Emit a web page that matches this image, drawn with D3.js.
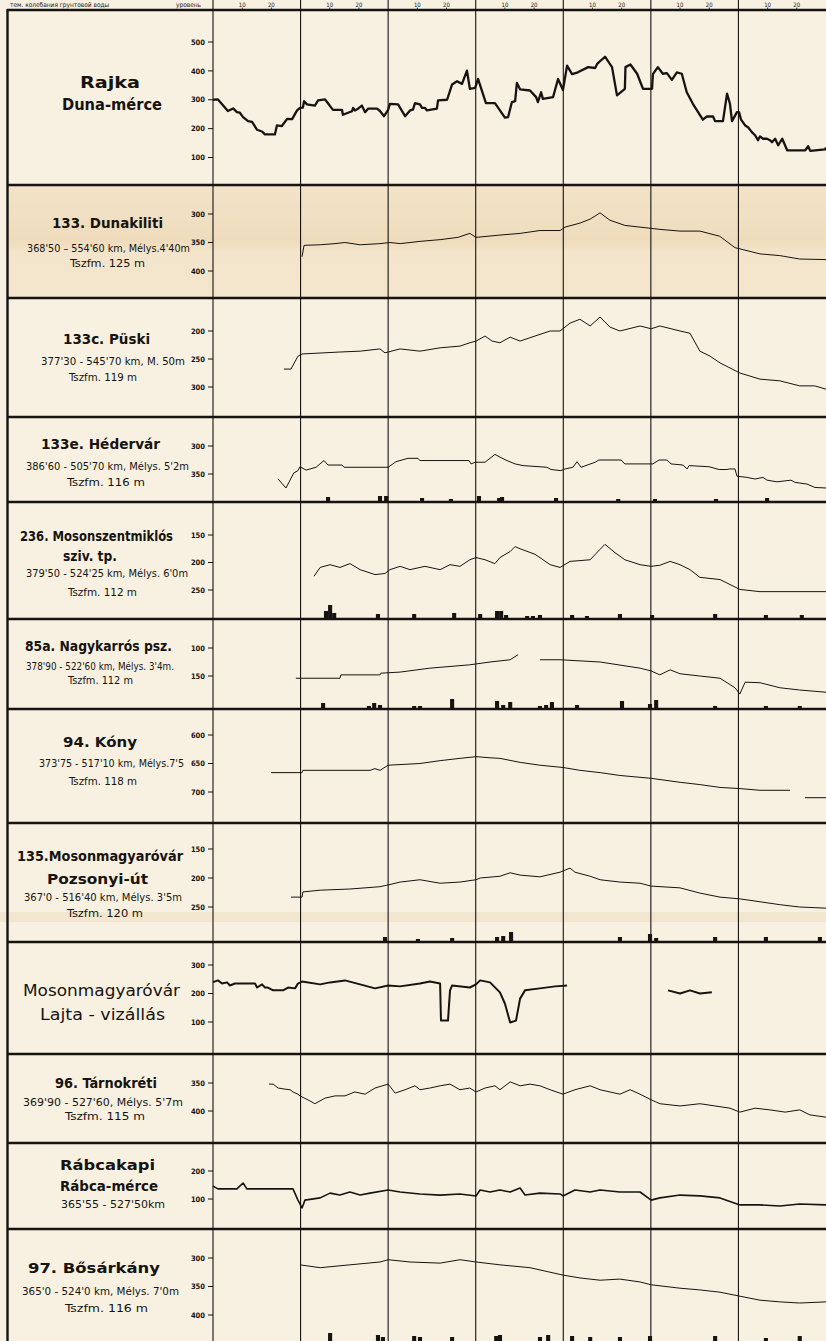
<!DOCTYPE html>
<html><head><meta charset="utf-8">
<script src="https://cdn.jsdelivr.net/npm/d3@7"></script>
<style>body{margin:0;background:#f8f1e2}svg{display:block}</style>
</head><body><svg id="c" width="826" height="1341"></svg>
<script>
// ---------- DATA (x = day from first grid line, 30 days per column) ----------
const monthStarts = [0, 30, 60, 90, 120, 150, 180];
const dekadTicks = [10, 20];
const headerLabels = ["10", "20"];

const rajkaTicks = [500, 400, 300, 200, 100];
const rajkaLevel = [[0,300],[1.7,301],[5.1,261],[6.9,270],[8.2,257],[9.2,255],[10.3,240],[12,226],[13.4,223],[15.1,196],[16.8,190],[17.8,180],[21.2,180],[21.9,211],[23.6,209],[25.4,234],[27.1,233],[28.8,263],[29.8,272],[30.8,273],[31.2,295],[32.2,284],[34.9,280],[36,298],[38.4,301],[41.1,265],[44.2,265],[44.5,248],[47.6,260],[48,272],[48.6,263],[49.7,269],[51,280],[52.1,257],[53.1,269],[56.2,269],[57.2,261],[58.6,243],[60,265],[60.6,286],[63.4,284],[65.8,243],[67.5,263],[68.5,266],[69.2,288],[70.9,284],[71.6,272],[72.6,272],[73.3,263],[76.7,269],[77.1,298],[80.2,300],[81.9,353],[83.6,364],[85.3,355],[87,401],[88,338],[89.8,341],[90.8,372],[93.5,288],[96.6,288],[100,238],[101.1,240],[102.4,292],[103.5,295],[104.1,358],[105.2,336],[108.6,332],[110.7,309],[111.3,292],[112.4,326],[113,303],[116.5,309],[118.2,372],[119.9,334],[121.3,418],[123,389],[125,395],[128.5,413],[130.9,410],[131.6,424],[134.3,449],[136.7,413],[138.4,315],[141.1,338],[141.3,413],[143,422],[145.3,390],[147.3,338],[150.4,338],[150.7,389],[152.4,413],[154.1,390],[155.5,392],[157.2,369],[158.9,395],[160.6,390],[162.3,326],[164.4,286],[167.8,231],[169.2,242],[171.3,242],[172,226],[174.7,226],[176.1,321],[177.1,286],[177.8,226],[179.5,257],[180.2,257],[180.9,231],[182.3,211],[183.3,205],[184.6,188],[185.7,177],[186.7,160],[187.4,173],[188.4,165],[189.8,165],[190.8,160],[191.5,153],[192.6,165],[193.6,142],[195,165],[196.7,125],[202.9,125],[203.9,139],[204.6,123],[209.7,128],[210,135]];

const dunakilitiTicks = [300, 350, 400];
const dunakilitiDepth = [[30.5,375],[31.2,355],[36.7,354],[41.8,352],[45.2,350],[50.4,354],[57.2,352],[60.6,350],[64.1,352],[70.9,348],[77.8,345],[83.9,341],[88,334],[90.1,341],[98.3,337],[105.2,334],[112,329],[118.9,329],[120.6,323],[125.7,316],[129.2,309],[132.6,298],[136,311],[141.1,320],[146.3,323],[153.1,327],[160,330],[166.8,330],[173.6,339],[178.8,359],[187.4,370],[194.2,373],[201,379],[210,380]];

const puskiTicks = [200, 250, 300];
const puskiDepth = [[24.3,268],[26.7,268],[29.1,245],[30.5,241],[43.5,237.5],[50.4,236],[57.2,232],[58.9,239],[64.1,232],[70.9,236],[77.8,230],[84.6,227],[88,221],[90.1,218],[93.2,209],[95.6,218],[98.3,221],[101.8,211],[105.2,218],[110.3,209],[115.5,200],[118.9,200],[122.3,186],[125.7,179],[129.2,191],[132.6,175],[136,193],[139.4,200],[146.3,191],[150.1,196],[153.1,191],[160,200],[163.4,204],[166.8,236],[170.3,245],[173.7,257],[180.5,275],[187.4,286],[194.2,289],[201,298],[206.2,298],[210,304]];

const hedervarTicks = [300, 350];
const hedervarDepth = [[22.3,359],[25,375],[27.7,348],[29.1,344],[29.8,337],[31.9,343],[35.3,338],[38,326],[39.4,334],[44.2,334],[44.9,338],[60,338],[62.7,328],[66.8,322],[70.2,322],[70.9,326],[87.7,326],[88.4,332],[89.8,329],[93.2,329],[93.9,326],[96.6,315],[98.7,321],[100.7,326],[103.5,332],[106.2,335],[114.4,338],[115.8,342],[119.2,344],[120.6,341],[123.3,338],[124.7,328],[126.1,338],[130.9,329],[132.2,325],[139.8,325],[141.1,332],[150.7,332],[152.8,325],[155.5,325],[156.9,332],[161,334],[162.4,341],[163.1,335],[169.9,337],[173.4,342],[176.1,342],[176.8,341],[178.8,341],[179.5,354],[182.9,356],[185.7,359],[188.4,356],[189.8,361],[193.2,364],[198,361],[199.4,365],[203.5,368],[206.2,374],[210,375]];
const hedervarRain = [[39.4,5],[57.2,6],[59.3,6],[71.6,4],[81.5,3],[91.1,6],[98,4],[99,5],[117.5,4],[138.8,3],[151.4,3],[172.3,3],[189.8,4]];

const mszmTicks = [150, 200, 250];
const mszmDepth = [[34.6,225],[36.7,209],[40.1,204],[43.5,209],[46.9,202],[50.4,213],[55.5,222],[58.9,220],[60.6,213],[64.1,207],[67.5,213],[72.6,207],[77.8,213],[81.2,204],[84.6,207],[88,195],[90.1,191],[93.2,195],[96.6,202],[98.3,191],[101.8,180],[103.5,171],[105.2,175],[110.3,185],[115.5,204],[118.9,209],[122.3,198],[129.2,195],[132.6,176],[134.3,167],[137.7,182],[141.1,195],[146.3,204],[150.1,207],[153.1,205],[156.6,198],[160,204],[163.4,213],[166.8,227],[173.7,231],[180.5,249],[187.4,253],[210,253]];
const mszmRain = [[38.7,8],[40.1,14],[41.5,6],[56.5,5],[68.9,5],[82.6,6],[91.5,5],[97.3,8],[98.7,8],[100.4,4],[107.6,3],[109.6,3],[112,4],[123,4],[128.1,3],[139.4,5],[150.4,4],[172,5],[189.4,4],[201.7,4]];

const nagykarrosTicks = [100, 150];
const nagykarrosDepth = [[28.4,154],[43.5,154],[43.8,148],[57.2,148],[57.5,145],[64.1,143],[74.3,136],[88,130],[94.9,125],[101.8,121],[104.5,112],null,[112,121],[118.9,121],[132.6,125],[146.3,136],[150.1,141],[153.1,148],[156.6,139],[160,146],[166.8,150],[173.7,154],[178.8,171],[180.5,182],[182.3,161],[187.4,162],[194.2,171],[201,175],[210,179]];
const nagykarrosRain = [[37.7,6],[53.4,3],[55.2,6],[57.2,4],[68.9,3],[70.9,3],[81.9,10],[97.3,8],[99.4,4],[101.8,7],[112,3],[114.1,4],[116.1,7],[124.7,4],[140.1,8],[149.7,5],[151.8,9],[172,3],[189.4,3],[201,3]];

const konyTicks = [600, 650, 700];
const konyDepth = [[19.9,666],[30.5,666],[30.8,662],[53.8,662],[55.5,659],[57.2,662],[60,653],[70.9,650],[77.8,645],[84.6,641],[90.1,638],[94.9,640],[98.3,641],[105.2,648],[112,653],[119.9,657],[125.7,662],[132.6,666],[139.4,671],[150.1,676],[160,683],[166.8,687],[173.7,692],[180.5,694],[187.4,697],[197.7,697],null,[202.8,710],[210,710]];

const pozsonyiTicks = [150, 200, 250];
const pozsonyiDepth = [[26.7,233],[30.5,233],[30.8,224],[36.7,221],[46.9,219],[57.2,215],[60,212],[64.1,207],[70.9,203],[77.8,209],[84.6,207],[90.1,203],[91.5,200],[98.3,197],[101.8,191],[105.2,195],[112,198],[118.9,190],[122.3,183],[124,190],[129.2,197],[132.6,203],[139.4,207],[146.3,209],[150.1,214],[160,217],[166.8,226],[173.7,233],[180.5,236],[187.4,241],[194.2,246],[201,250],[210,252]];
const pozsonyiRain = [[58.9,5],[70.2,3],[81.9,4],[97.3,5],[99.4,6],[102.1,10],[139.4,5],[149.7,8],[151.8,4],[172,5],[189.4,5],[207.9,5]];

const lajtaTicks = [300, 200, 100];
const lajtaLevel = [[0,240],[1.7,246],[3.1,235],[4.8,239],[5.8,228],[7.5,235],[14.4,235],[15.1,221],[16.8,232],[17.8,221],[18.8,221],[20.6,211],[24,211],[25.7,221],[28.1,218],[29.1,235],[30.5,242],[36.7,232],[40.1,239],[45.2,246],[50.4,232],[55.5,218],[60,228],[64.1,225],[70.9,235],[74.3,242],[77.8,235],[78.1,105],[80.5,105],[81.2,211],[81.9,228],[88,221],[90.1,232],[91.5,246],[94.9,239],[98.3,204],[100,165],[101.8,98],[103.8,105],[105.2,182],[106.9,211],[112,218],[117.2,225],[121.3,228],null,[155.9,211],[160,200],[163.4,211],[166.8,200],[170.9,204]];

const tarnokretiTicks = [350, 400];
const tarnokretiDepth = [[19.2,352],[20.6,352],[22.3,359],[24.7,361],[26.4,362],[27.4,366],[29.1,370],[29.8,373],[33.2,382],[34.9,387],[38.4,377],[41.8,373],[45.2,373],[48.6,366],[52.1,370],[55.5,359],[60,352],[62.4,368],[65.8,362],[69.2,355],[70.9,362],[74.3,359],[77.8,355],[81.2,352],[84.6,362],[88,359],[90.1,366],[93.2,359],[96.6,355],[98.3,362],[101.8,348],[105.2,355],[108.6,352],[112,355],[115.5,362],[119.9,370],[124,362],[129.2,355],[132.6,362],[136,366],[139.4,370],[142.9,362],[146.3,370],[150.1,380],[153.1,387],[160,391],[166.8,387],[172,391],[177.1,395],[180.5,402],[185.7,395],[190.8,398],[196,402],[201,398],[204.5,407],[210,411]];

const rabcaTicks = [200, 100];
const rabcaLevel = [[0,146],[1.7,136],[8.2,136],[10.3,157],[11.6,136],[27.4,136],[29.1,96],[30.5,68],[31.5,96],[36.7,104],[40.1,121],[43.5,114],[46.9,125],[50.4,114],[53.8,121],[60,132],[64.1,125],[70.9,118],[77.8,114],[84.6,118],[90.1,111],[91.5,132],[94.9,125],[98.3,132],[101.8,125],[105.2,139],[106.9,114],[112,121],[118.9,118],[119.9,111],[124,132],[129.2,125],[132.6,132],[139.4,125],[146.3,125],[150.1,96],[153.1,104],[160,114],[166.8,111],[173.7,104],[180.5,79],[187.4,79],[194.2,75],[201,82],[210,79]];

const bosarkanyTicks = [300, 350, 400];
const bosarkanyDepth = [[29.8,312],[36.7,317],[46.9,312],[57.2,307],[60,303],[67.5,307],[77.8,309],[84.6,303],[90.1,307],[98.3,312],[108.6,317],[119.9,330],[125.7,335],[132.6,339],[139.4,337],[146.3,342],[150.1,347],[160,353],[166.8,356],[173.7,360],[180.5,367],[187.4,374],[194.2,377],[201,379],[210,377]];
const bosarkanyRain = [[40.1,8],[56.5,6],[58.2,4],[68.9,5],[70.9,4],[81.9,4],[97,5],[98.3,6],[112,4],[114.8,6],[123,5],[129.2,4],[139.4,4],[149.7,5],[172,5],[189.4,3],[201,5]];

// ---------- LAYOUT ----------
const svg = d3.select('#c');
const W = 826, H = 1341;
const ink = '#161310';
const FONT = 'DejaVu Sans Condensed, DejaVu Sans, sans-serif';
const x = d3.scaleLinear().domain([0, 210]).range([213, 826]);

const panels = [
 {top:10, bottom:185, ticks:rajkaTicks, yr:[42,157.5], data:rajkaLevel, lw:2.3,
  labels:[["Rajka",80,88,16,60,700],["Duna-mérce",62,110,16,100,700]]},
 {top:185, bottom:298, ticks:dunakilitiTicks, yr:[214,271], data:dunakilitiDepth, lw:1, tint:true,
  labels:[["133. Dunakiliti",52,228,14,111,700],["368'50 – 554'60 km, Mélys.4'40m",27,251.5,10,163,400],["Tszfm. 125 m",70,266.5,10,75,400]]},
 {top:298, bottom:417, ticks:puskiTicks, yr:[331,387], data:puskiDepth, lw:1,
  labels:[["133c. Püski",63,344,14,87,700],["377'30 - 545'70 km, M. 50m",41,364.5,10,144,400],["Tszfm. 119 m",69,380.5,10,68,400]]},
 {top:417, bottom:502, ticks:hedervarTicks, yr:[446,474], data:hedervarDepth, lw:1, rain:hedervarRain,
  labels:[["133e. Hédervár",41,449,14,119,700],["386'60 - 505'70 km, Mélys. 5'2m",26,469.5,10,163,400],["Tszfm. 116 m",67,485.5,10,78,400]]},
 {top:502, bottom:619, ticks:mszmTicks, yr:[535,590], data:mszmDepth, lw:1, rain:mszmRain,
  labels:[["236. Mosonszentmiklós",20,541,14,153,700],["sziv. tp.",63,561,14,54,700],["379'50 - 524'25 km, Mélys. 6'0m",26,576.5,10,162,400],["Tszfm. 112 m",68,595.5,10,69,400]]},
 {top:619, bottom:709, ticks:nagykarrosTicks, yr:[648,676], data:nagykarrosDepth, lw:1, rain:nagykarrosRain,
  labels:[["85a. Nagykarrós psz.",25,651,14,147,700],["378'90 - 522'60 km, Mélys. 3'4m.",26,669.5,10,148,400],["Tszfm. 112 m",68,683.5,10,65,400]]},
 {top:709, bottom:823, ticks:konyTicks, yr:[735,792], data:konyDepth, lw:1,
  labels:[["94. Kóny",63,747,14,74,700],["373'75 - 517'10 km, Mélys.7'5",39,766.5,10,145,400],["Tszfm. 118 m",69,784.5,10,68,400]]},
 {top:823, bottom:942, ticks:pozsonyiTicks, yr:[849,907], data:pozsonyiDepth, lw:1, rain:pozsonyiRain,
  labels:[["135.Mosonmagyaróvár",17,861,14,166,700],["Pozsonyi-út",47,884,14,101,700],["367'0 - 516'40 km, Mélys. 3'5m",24,900.5,10,158,400],["Tszfm. 120 m",67,916.5,10,76,400]]},
 {top:942, bottom:1054, ticks:lajtaTicks, yr:[965,1022], data:lajtaLevel, lw:2,
  labels:[["Mosonmagyaróvár",23,995.5,15,157,400],["Lajta - vizállás",40,1019.5,15,125,400]]},
 {top:1054, bottom:1143, ticks:tarnokretiTicks, yr:[1083,1111], data:tarnokretiDepth, lw:1,
  labels:[["96. Tárnokréti",55,1088,14,102,700],["369'90 - 527'60, Mélys. 5'7m",23,1105.5,10,160,400],["Tszfm. 115 m",65,1119.5,10,80,400]]},
 {top:1143, bottom:1229, ticks:rabcaTicks, yr:[1171,1199], data:rabcaLevel, lw:1.6,
  labels:[["Rábcakapi",60,1170,14,95,700],["Rábca-mérce",60,1191,14,98,700],["365'55 - 527'50km",61,1207.5,10,104,400]]},
 {top:1229, bottom:1341, ticks:bosarkanyTicks, yr:[1258,1315], data:bosarkanyDepth, lw:1, rain:bosarkanyRain,
  labels:[["97. Bősárkány",28,1273,14,132,700],["365'0 - 524'0 km, Mélys. 7'0m",22,1294.5,10,157,400],["Tszfm. 116 m",65,1311.5,10,83,400]]}
];

// background
svg.append('rect').attr('width',W).attr('height',H).attr('fill','#f8f1e2');
const defs = svg.append('defs');
const g1 = defs.append('linearGradient').attr('id','tint').attr('x1',0).attr('y1',0).attr('x2',0).attr('y2',1);
g1.append('stop').attr('offset','0').attr('stop-color','#f2e3c8');
g1.append('stop').attr('offset','0.5').attr('stop-color','#efdcbd');
g1.append('stop').attr('offset','0.6').attr('stop-color','#f3e5cb');
g1.append('stop').attr('offset','1').attr('stop-color','#f4e6cd');
panels.filter(p=>p.tint).forEach(p=>{
  svg.append('rect').attr('x',7).attr('y',p.top).attr('width',W-7).attr('height',p.bottom-p.top).attr('fill','url(#tint)');
});
// fold shading
svg.append('rect').attr('x',0).attr('y',912).attr('width',W).attr('height',10).attr('fill','#eedfc4').attr('opacity',0.6);

// header
const hdr = svg.append('g').attr('font-family',FONT).attr('fill',ink);
hdr.append('text').attr('x',10).attr('y',7).attr('font-size',6.5).text('тем. колебания грунтовой воды');
hdr.append('text').attr('x',176).attr('y',7).attr('font-size',6.5).text('уровень');
monthStarts.forEach(m=>{
  dekadTicks.forEach((d,i)=>{
    const xx = x(m+d);
    hdr.append('line').attr('x1',xx).attr('x2',xx).attr('y1',7.5).attr('y2',10).attr('stroke',ink).attr('stroke-width',0.8);
    hdr.append('text').attr('x',xx).attr('y',6.5).attr('font-size',6).attr('text-anchor','middle').text(headerLabels[i]);
  });
});

// vertical grid lines
svg.append('g').selectAll('line').data(monthStarts).join('line')
  .attr('x1',d=>x(d)).attr('x2',d=>x(d)).attr('y1',0).attr('y2',H)
  .attr('stroke',ink).attr('stroke-width',1.1);

// panels
panels.forEach(p=>{
  const y = d3.scaleLinear().domain([p.ticks[0], p.ticks[p.ticks.length-1]]).range(p.yr);
  const g = svg.append('g');
  p.ticks.forEach(t=>{
    g.append('line').attr('x1',208).attr('x2',213).attr('y1',y(t)).attr('y2',y(t)).attr('stroke',ink).attr('stroke-width',1);
    g.append('text').attr('x',205).attr('y',y(t)).attr('dy','0.35em').attr('text-anchor','end')
      .attr('font-family',FONT).attr('font-weight',700)
      .attr('font-size',7.5).attr('fill',ink).text(t);
  });
  if (p.rain) {
    const h = d3.scaleLinear().domain([0,10]).range([0,10]);
    g.selectAll('rect.r').data(p.rain).join('rect')
      .attr('x',d=>x(d[0])-2).attr('width',d=>x(d[0]+1.4)-x(d[0]))
      .attr('y',d=>p.bottom-h(d[1])).attr('height',d=>h(d[1])).attr('fill',ink);
  }
  const line = d3.line().defined(d=>d!==null).x(d=>x(d[0])).y(d=>y(d[1]));
  g.append('path').attr('d',line(p.data)).attr('fill','none').attr('stroke',ink)
    .attr('stroke-width',p.lw).attr('stroke-linejoin','round');
  p.labels.forEach(l=>{
    g.append('text').attr('x',l[1]).attr('y',l[2]).attr('font-size',l[3]).attr('font-weight',l[5])
      .attr('font-family',FONT).attr('fill',ink)
      .attr('textLength',l[4]).attr('lengthAdjust','spacingAndGlyphs').text(l[0]);
  });
});

// horizontal separators
const seps = panels.map(p=>p.top);
svg.append('g').selectAll('line').data(seps).join('line')
  .attr('x1',7).attr('x2',W).attr('y1',d=>d).attr('y2',d=>d)
  .attr('stroke',ink).attr('stroke-width',2.4);
svg.append('line').attr('x1',7.5).attr('x2',7.5).attr('y1',9).attr('y2',H).attr('stroke',ink).attr('stroke-width',2.4);
</script></body></html>
